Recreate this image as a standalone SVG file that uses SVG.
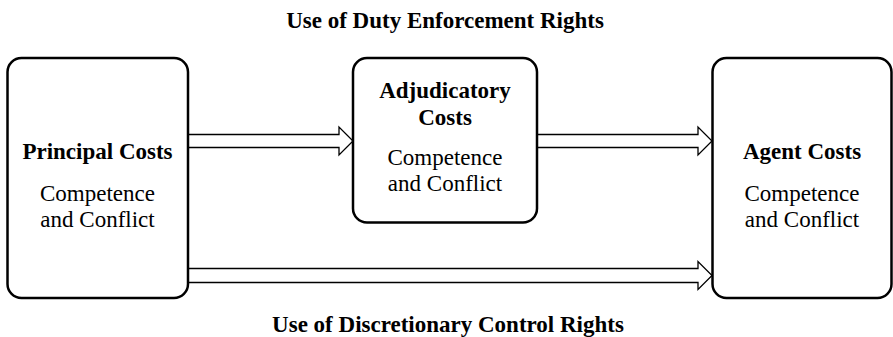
<svg xmlns="http://www.w3.org/2000/svg" width="893" height="337" viewBox="0 0 893 337">
<style>
.box{fill:#fff;stroke:#000;stroke-width:2.5}
.arr{fill:#fff;stroke:#000;stroke-width:1.3;stroke-linejoin:miter}
text{font-family:"Liberation Serif","Times New Roman",serif;font-size:23px;fill:#000;text-anchor:middle}
.b{font-weight:bold}
</style>
<rect width="893" height="337" fill="#fff"/>
<g id="connectors">
<path class="arr" d="M188,134.5 H339 V127 L353,141 L339,155 V147.5 H188"/>
<path class="arr" d="M538,134.5 H698 V127 L712,141 L698,155 V147.5 H538"/>
<path class="arr" d="M188,268.5 H698 V261.5 L712,275.5 L698,289.5 V282.5 H188"/>
</g>
<g id="principal">
<rect class="box" x="7.5" y="58" width="180.5" height="240" rx="14"/>
<text class="b" x="97.5" y="159">Principal Costs</text>
<text x="97.5" y="201">Competence</text>
<text x="97.5" y="227">and Conflict</text>
</g>
<g id="adjudicatory">
<rect class="box" x="353" y="58" width="184" height="164.5" rx="14"/>
<text class="b" x="445" y="98">Adjudicatory</text>
<text class="b" x="445" y="125">Costs</text>
<text x="445" y="165">Competence</text>
<text x="445" y="191">and Conflict</text>
</g>
<g id="agent">
<rect class="box" x="712.5" y="58" width="179" height="240" rx="14"/>
<text class="b" x="802" y="159">Agent Costs</text>
<text x="802" y="201">Competence</text>
<text x="802" y="227">and Conflict</text>
</g>
<g id="labels">
<text class="b" x="445" y="28">Use of Duty Enforcement Rights</text>
<text class="b" x="448" y="332">Use of Discretionary Control Rights</text>
</g>
</svg>
